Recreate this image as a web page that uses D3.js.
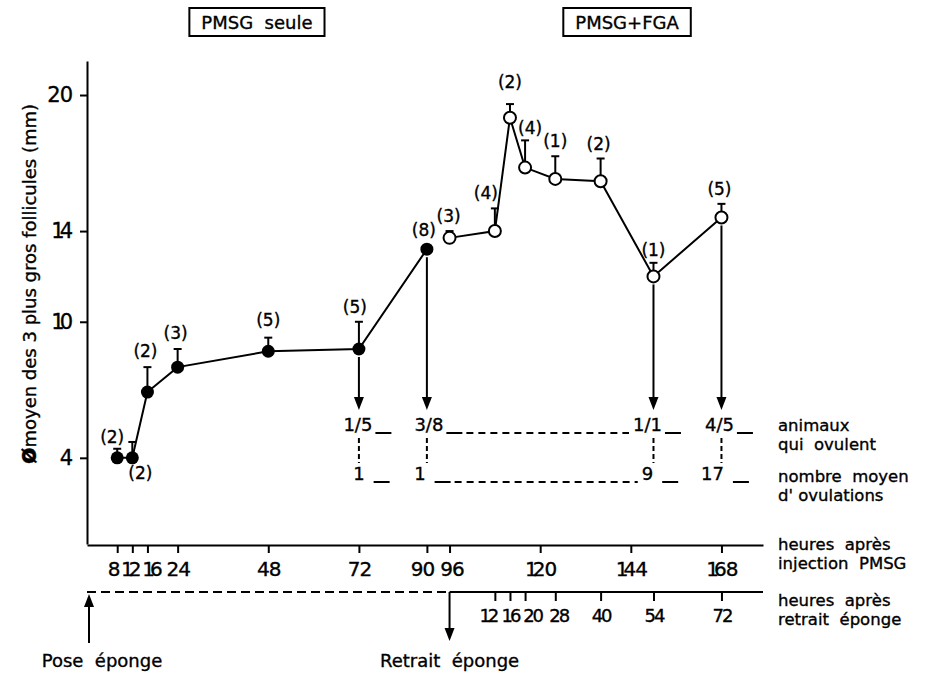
<!DOCTYPE html>
<html>
<head>
<meta charset="utf-8">
<script src="https://cdn.jsdelivr.net/npm/d3@7"></script>
<style>
  body { margin: 0; background: #fff; }
  svg { display: block; font-family: "DejaVu Sans", sans-serif; }
  svg text { fill: #000; stroke: #000; stroke-width: 0.35px; }
</style>
</head>
<body>
<div id="chart"></div>
<script>
// PMSG seule (filled circles)
const seuleHours = [8, 12, 16, 24, 48, 72, 90];
const seuleMean = [4.0, 4.0, 6.9, 8.0, 8.7, 8.8, 13.2];
const seuleSem = [0.4, 0.7, 1.1, 0.8, 0.6, 1.2, 0];
const seuleN = [2, 2, 2, 3, 5, 5, 8];

// PMSG + FGA (open circles)
const fgaHours = [96, 108, 112, 116, 124, 136, 150, 168];
const fgaMean = [13.7, 14.0, 19.0, 16.8, 16.3, 16.2, 12.0, 14.6];
const fgaSem = [0.3, 1.0, 0.6, 1.2, 1.0, 1.0, 0.6, 0.6];
const fgaN = [3, 4, 2, 4, 1, 2, 1, 5];

// ovulation table
const ovulHours = [72, 90, 150, 168];
const ovulAnimals = ["1/5", "3/8", "1/1", "4/5"];
const ovulMean = ["1", "1", "9", "17"];

// axes
const yTicks = [4, 10, 14, 20];
const pmsgTicks = [8, 12, 16, 24, 48, 72, 90, 96, 120, 144, 168];
const retraitTicks = [12, 16, 20, 28, 40, 54, 72];
const retraitAt = 96;

// label nudges (layout only)
const seuleShift = [[-5, 3], [8, 46], [-2, -1], [-2, -1], [0, -3], [-4, 0], [-3, -4]];
const fgaShift = [[-1, 0], [-9, 0], [0, -7], [5, 3], [0, 0], [-2, 0], [0, 2], [-2, 0]];
const pmsgTickShift = { 8: -4, 12: -2, 16: 4, 90: -5, 96: 2 };
const retraitTickShift = { 12: -7, 16: 0, 20: 7, 28: 3 };

const W = 933, H = 674;
const svg = d3.select("#chart").append("svg").attr("width", W).attr("height", H);
svg.append("rect").attr("width", W).attr("height", H).attr("fill", "#fff");

const x = d3.scaleLinear().domain([0, 179]).range([87, 763]);
const y = d3.scaleLinear().domain([0.2, 21.5]).range([544, 61]);
const xr = d3.scaleLinear().domain([-retraitAt, 179 - retraitAt]).range([87, 763]);

// narrow "1" like the original lettering
function tickLabel(sel, size, spacing, oneSpacing) {
  sel.attr("font-size", size).attr("font-family", "DejaVu Sans, sans-serif")
    .each(function (d) {
      const t = d3.select(this).text(null);
      for (const ch of String(d)) {
        t.append("tspan").attr("letter-spacing", ch === "1" ? oneSpacing : spacing).text(ch);
      }
    });
}

// y axis
const yAxis = svg.append("g")
    .attr("transform", "translate(" + x(0) + ",0)")
    .call(d3.axisLeft(y).tickValues(yTicks).tickSize(7).tickSizeOuter(0).tickPadding(8));
yAxis.selectAll("text").call(tickLabel, 21, -1, -5);

// x axis : heures apres injection PMSG
const xAxis = svg.append("g")
    .attr("transform", "translate(0,545)")
    .call(d3.axisBottom(x).tickValues(pmsgTicks).tickSize(8).tickSizeOuter(0).tickPadding(9));
xAxis.selectAll("text").attr("dx", (d) => pmsgTickShift[d] || 0).call(tickLabel, 20, -1, -5);

// second x axis : heures apres retrait eponge
const rAxis = svg.append("g")
    .attr("transform", "translate(0,592)")
    .call(d3.axisBottom(xr).tickValues(retraitTicks).tickSize(9).tickSizeOuter(0).tickPadding(8));
rAxis.select(".domain").remove();
rAxis.selectAll("text").attr("dx", (d) => retraitTickShift[d] || 0).call(tickLabel, 18, -2, -3);
rAxis.append("line").attr("x1", xr(-retraitAt)).attr("x2", xr(0)).attr("stroke", "#000")
    .attr("stroke-dasharray", "9,5");
rAxis.append("line").attr("x1", xr(0)).attr("x2", x.range()[1]).attr("stroke", "#000");

svg.selectAll(".domain, .tick line, g line").attr("stroke-width", 2);

function arrow(g, ax, y1, y2) {
  const dir = y2 > y1 ? 1 : -1;
  const head = 13;
  g.append("line").attr("x1", ax).attr("x2", ax).attr("y1", y1).attr("y2", y2 - dir * head)
      .attr("stroke", "#000").attr("stroke-width", 2);
  g.append("path")
      .attr("d", "M" + (ax - 5) + "," + (y2 - dir * head) + "L" + (ax + 5) + "," + (y2 - dir * head) + "L" + ax + "," + y2 + "Z")
      .attr("fill", "#000");
}

// eponge events
const ev = svg.append("g");
arrow(ev, x(0) + 2, 643, 594);
arrow(ev, x(retraitAt), 592, 641);
ev.append("text").attr("x", x(0) + 15).attr("y", 667).attr("text-anchor", "middle")
    .attr("font-size", 18).attr("xml:space", "preserve").text("Pose  éponge");
ev.append("text").attr("x", x(retraitAt)).attr("y", 667).attr("text-anchor", "middle")
    .attr("font-size", 18).attr("xml:space", "preserve").text("Retrait  éponge");

// right side captions
const caps = [
  ["heures  après", 550], ["injection  PMSG", 569],
  ["heures  après", 606], ["retrait  éponge", 625],
  ["animaux", 431], ["qui  ovulent", 450],
  ["nombre  moyen", 482], ["d' ovulations", 501]
];
svg.append("g").selectAll("text").data(caps).join("text")
    .attr("x", 778).attr("y", (d) => d[1]).attr("font-size", 16.5)
    .attr("xml:space", "preserve").text((d) => d[0]);

// y axis title
svg.append("text")
    .attr("transform", "translate(36,284) rotate(-90)")
    .attr("text-anchor", "middle").attr("font-size", 18)
    .call((t) => {
      t.append("tspan").attr("font-size", 24).attr("font-weight", "bold").text("ø");
      t.append("tspan").text("moyen des 3 plus gros follicules (mm)");
    });

// group boxes
function box(cx, label) {
  const g = svg.append("g");
  const t = g.append("text").attr("x", cx).attr("y", 29).attr("text-anchor", "middle")
      .attr("font-size", 18).attr("xml:space", "preserve").text(label);
  const w = t.node().getComputedTextLength();
  g.insert("rect", "text").attr("x", cx - w / 2 - 12).attr("y", 8).attr("width", w + 24).attr("height", 28)
      .attr("fill", "none").attr("stroke", "#000").attr("stroke-width", 2);
}
box(x(45), "PMSG  seule");
box(x(143), "PMSG+FGA");

// data
const seule = seuleHours.map((h, i) => ({ h, m: seuleMean[i], s: seuleSem[i], n: seuleN[i], sh: seuleShift[i] }));
const fga = fgaHours.map((h, i) => ({ h, m: fgaMean[i], s: fgaSem[i], n: fgaN[i], sh: fgaShift[i] }));

const line = d3.line().x((d) => x(d.h)).y((d) => y(d.m));
const plot = svg.append("g");

// ovulation arrows
const byHour = new Map(seule.concat(fga).map((d) => [d.h, d]));
ovulHours.forEach((h) => {
  arrow(plot, x(h), y(byHour.get(h).m) + 8, 410);
});

[seule, fga].forEach((series, k) => {
  plot.append("path").datum(series).attr("d", line)
      .attr("fill", "none").attr("stroke", "#000").attr("stroke-width", 2);

  const eb = plot.append("g").selectAll("g").data(series.filter((d) => d.s > 0)).join("g");
  eb.append("line").attr("x1", (d) => x(d.h)).attr("x2", (d) => x(d.h))
      .attr("y1", (d) => y(d.m)).attr("y2", (d) => y(d.m + d.s))
      .attr("stroke", "#000").attr("stroke-width", 2);
  eb.append("line").attr("x1", (d) => x(d.h) - 4).attr("x2", (d) => x(d.h) + 4)
      .attr("y1", (d) => y(d.m + d.s)).attr("y2", (d) => y(d.m + d.s))
      .attr("stroke", "#000").attr("stroke-width", 2);

  plot.append("g").selectAll("circle").data(series).join("circle")
      .attr("cx", (d) => x(d.h)).attr("cy", (d) => y(d.m))
      .attr("r", k === 0 ? 6.5 : 6)
      .attr("fill", k === 0 ? "#000" : "#fff")
      .attr("stroke", "#000").attr("stroke-width", k === 0 ? 0 : 2);

  plot.append("g").selectAll("text").data(series).join("text")
      .attr("x", (d) => x(d.h) + d.sh[0])
      .attr("y", (d) => y(d.m + d.s) - 9 + d.sh[1])
      .attr("text-anchor", "middle").attr("font-size", 17)
      .text((d) => "(" + d.n + ")");
});

// ovulation table
const tbl = svg.append("g");
function tableRow(labels, base, gap, shifts) {
  const spans = [];
  tbl.append("g").selectAll("text").data(labels).join("text")
      .attr("x", (d, i) => x(ovulHours[i]) + shifts[i]).attr("y", base)
      .attr("text-anchor", "middle").attr("font-size", 18)
      .text((d) => d)
      .each(function (d, i) {
        const w = this.getComputedTextLength();
        const cx = x(ovulHours[i]) + shifts[i];
        spans.push([cx - w / 2, cx + w / 2]);
      });
  spans.forEach((s) => {
    tbl.append("line").attr("x1", s[1] + gap).attr("x2", s[1] + gap + 16)
        .attr("y1", base + 2).attr("y2", base + 2)
        .attr("stroke", "#000").attr("stroke-width", 2);
  });
  // dashed link between 90 h and 150 h
  tbl.append("line").attr("x1", spans[1][1] + gap + 20).attr("x2", spans[2][0] - 4)
      .attr("y1", base + 2).attr("y2", base + 2)
      .attr("stroke", "#000").attr("stroke-width", 2).attr("stroke-dasharray", "7,5");
}
tableRow(ovulAnimals, 431, 3, [-1, 2, -6, -2]);
tableRow(ovulMean, 480, 9, [0, -7, -6, -9]);
ovulHours.forEach((h) => {
  tbl.append("line").attr("x1", x(h)).attr("x2", x(h)).attr("y1", 438).attr("y2", 463)
      .attr("stroke", "#000").attr("stroke-width", 2).attr("stroke-dasharray", "5,3");
});
</script>
</body>
</html>
